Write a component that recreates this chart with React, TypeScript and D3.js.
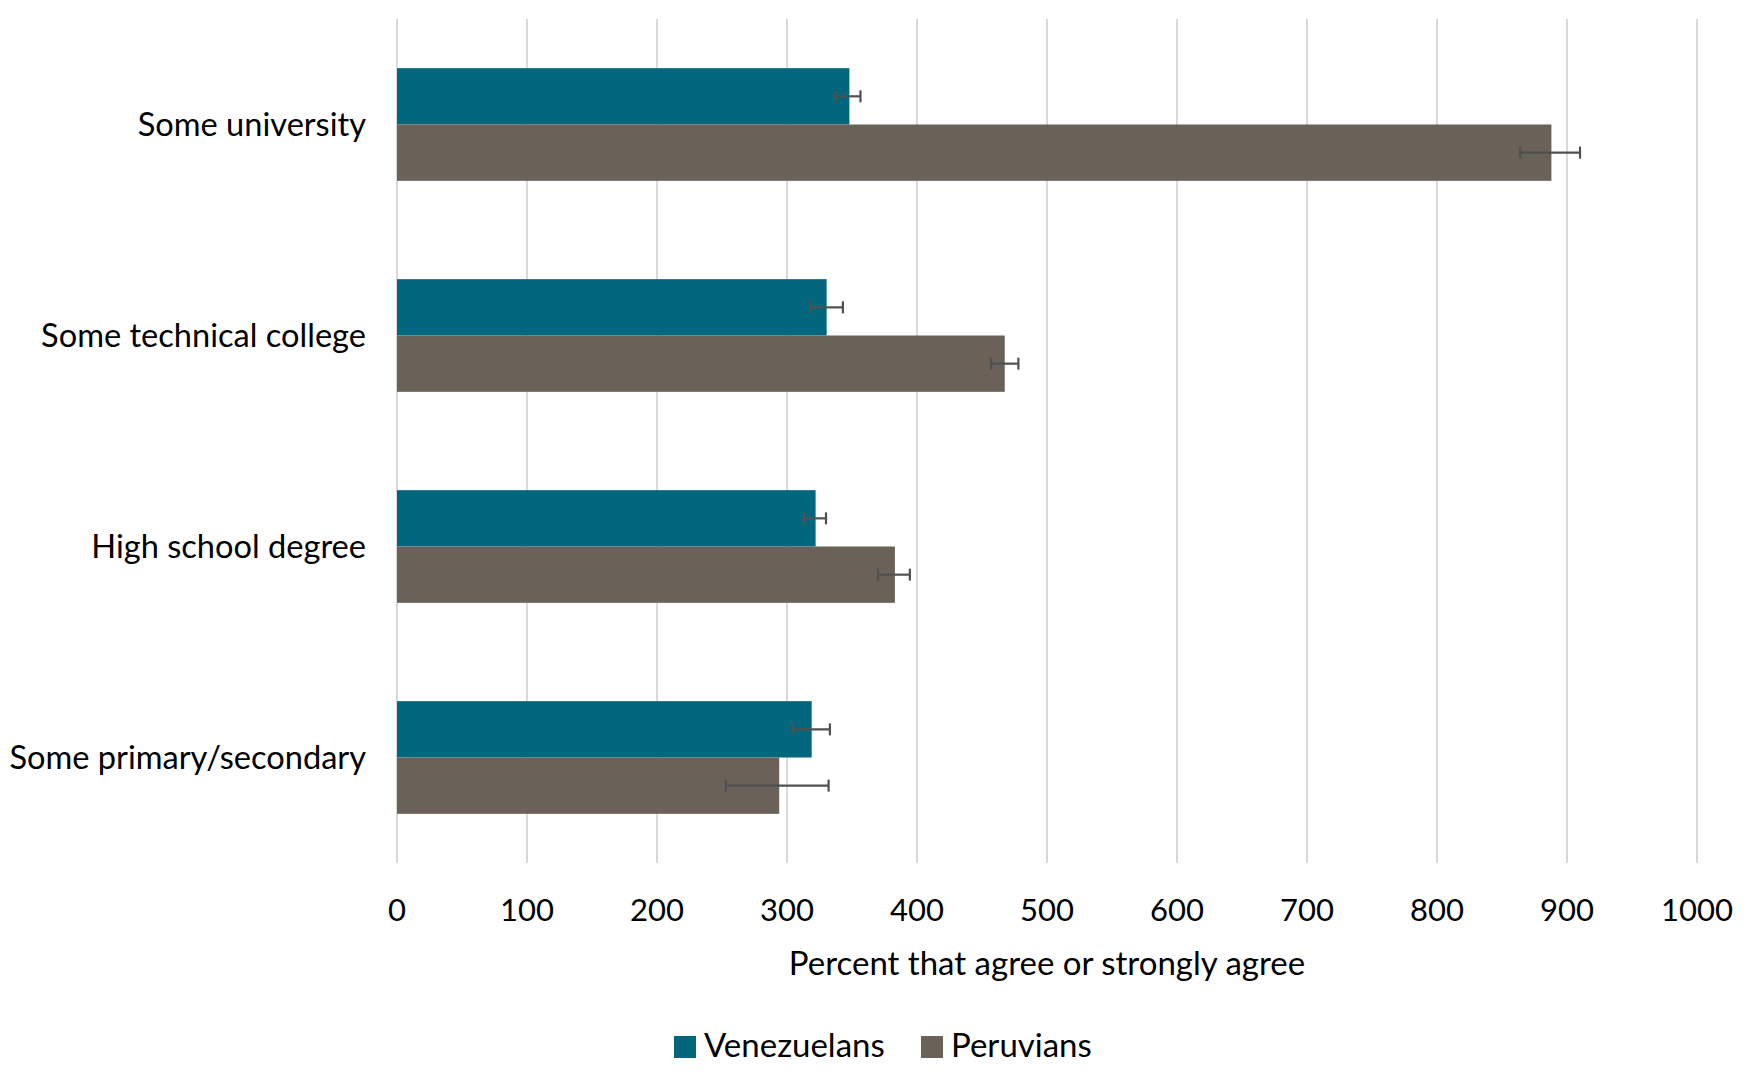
import React, { useEffect, useRef } from 'react';
import * as d3 from 'd3';

const categories = ['Some university', 'Some technical college', 'High school degree', 'Some primary/secondary'];
const seriesNames = ['Venezuelans', 'Peruvians'];
const seriesColors = ['#02677d', '#6a6158'];

const venezuelans = [348, 330.5, 322, 319];
const venezuelansLow = [337.5, 318, 313, 304.5];
const venezuelansHigh = [356.5, 343, 330, 333];

const peruvians = [888, 467.5, 383, 294];
const peruviansLow = [864, 457, 370, 253];
const peruviansHigh = [910, 478, 394.5, 332];

const xTicks = [0, 100, 200, 300, 400, 500, 600, 700, 800, 900, 1000];
const xTitle = 'Percent that agree or strongly agree';

const WIDTH = 1760;
const HEIGHT = 1090;
const FONT = 'Lato, "Open Sans", sans-serif';

const App: React.FC = () => {
  const svgRef = useRef<SVGSVGElement>(null);

  useEffect(() => {
    document.body.style.margin = '0';
    const svg = d3.select(svgRef.current);
    svg.selectAll('*').remove();

    const margin = { top: 19, right: 63, bottom: 227, left: 397 };
    const x = d3.scaleLinear()
      .domain([0, 1000])
      .range([margin.left, WIDTH - margin.right]);

    const y = d3.scaleBand()
      .domain(categories)
      .range([margin.top, HEIGHT - margin.bottom])
      .paddingInner(0.466)
      .paddingOuter(0.233);

    const ySub = d3.scaleBand()
      .domain(seriesNames)
      .range([0, y.bandwidth()]);

    // gridlines
    svg.append('g')
      .selectAll('line')
      .data(xTicks)
      .enter()
      .append('line')
      .attr('x1', d => x(d))
      .attr('x2', d => x(d))
      .attr('y1', margin.top)
      .attr('y2', HEIGHT - margin.bottom)
      .attr('stroke', '#d9d9d9')
      .attr('stroke-width', 2);

    const series = [
      { name: seriesNames[0], values: venezuelans, low: venezuelansLow, high: venezuelansHigh, color: seriesColors[0] },
      { name: seriesNames[1], values: peruvians, low: peruviansLow, high: peruviansHigh, color: seriesColors[1] },
    ];

    series.forEach(s => {
      const g = svg.append('g');
      categories.forEach((c, i) => {
        const top = y(c)! + ySub(s.name)!;
        const h = ySub.bandwidth();
        g.append('rect')
          .attr('x', x(0))
          .attr('y', top)
          .attr('width', x(s.values[i]) - x(0))
          .attr('height', h)
          .attr('fill', s.color);

        const cy = top + h / 2;
        g.append('line')
          .attr('x1', x(s.low[i]))
          .attr('x2', x(s.high[i]))
          .attr('y1', cy)
          .attr('y2', cy)
          .attr('stroke', '#505050')
          .attr('stroke-width', 2.2);
        [s.low[i], s.high[i]].forEach(v => {
          g.append('line')
            .attr('x1', x(v))
            .attr('x2', x(v))
            .attr('y1', cy - 6)
            .attr('y2', cy + 6)
            .attr('stroke', '#505050')
            .attr('stroke-width', 2.2);
        });
      });
    });

    // category labels
    svg.append('g')
      .selectAll('text')
      .data(categories)
      .enter()
      .append('text')
      .attr('x', margin.left - 31)
      .attr('y', d => y(d)! + y.bandwidth() / 2)
      .attr('dy', '0.35em')
      .attr('text-anchor', 'end')
      .attr('font-family', FONT)
      .attr('font-size', 32.6)
      .attr('fill', '#000')
      .text(d => d);

    // x tick labels
    svg.append('g')
      .selectAll('text')
      .data(xTicks)
      .enter()
      .append('text')
      .attr('x', d => x(d))
      .attr('y', 921)
      .attr('text-anchor', 'middle')
      .attr('font-family', FONT)
      .attr('font-size', 31)
      .attr('fill', '#000')
      .text(d => d);

    svg.append('text')
      .attr('x', (x(0) + x(1000)) / 2)
      .attr('y', 975)
      .attr('text-anchor', 'middle')
      .attr('font-family', FONT)
      .attr('font-size', 33)
      .attr('fill', '#000')
      .text(xTitle);

    // legend
    const legendX = [674, 921];
    const legend = svg.append('g');
    seriesNames.forEach((name, i) => {
      legend.append('rect')
        .attr('x', legendX[i])
        .attr('y', 1036)
        .attr('width', 22)
        .attr('height', 22)
        .attr('fill', seriesColors[i]);
      legend.append('text')
        .attr('x', legendX[i] + 30)
        .attr('y', 1057)
        .attr('font-family', FONT)
        .attr('font-size', 33)
        .attr('fill', '#000')
        .text(name);
    });
  }, []);

  return <svg ref={svgRef} width={WIDTH} height={HEIGHT} style={{ display: 'block', background: '#fff' }} />;
};

export default App;
